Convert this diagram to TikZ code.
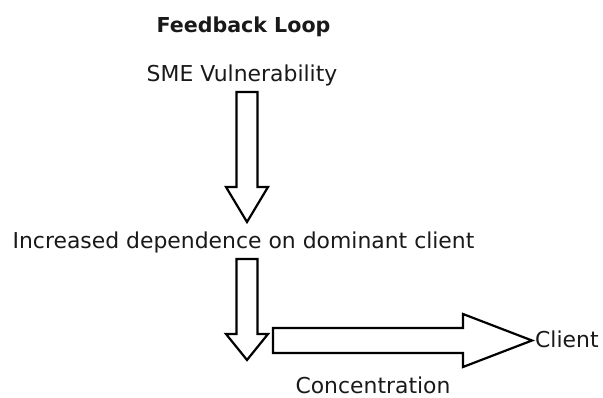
\documentclass[tikz,border=0pt]{standalone}
\usepackage{fontspec}
\setmainfont{DejaVu Sans}
\begin{document}
\begin{tikzpicture}[x=1pt,y=-1pt,
  lbl/.style={inner sep=0pt, font=\fontsize{21.9}{26}\selectfont, text=black!90},
  blockarrow/.style={draw=black, line width=2.2pt, line join=miter, fill=white}]
\useasboundingbox (0,0) rectangle (603,398);
\node[lbl, font=\fontsize{20.6}{24}\selectfont\bfseries, anchor=base] (title) at (243.5,33) {Feedback Loop};
\node[lbl, anchor=base] (sme) at (242,82) {SME Vulnerability};
\node[lbl, anchor=base] (dep) at (243.5,249) {Increased dependence on dominant client};
\node[lbl, anchor=base west] (client) at (535,348) {Client};
\node[lbl, anchor=base, text depth=0pt] (conc) at (373,393) {Concentration};
% block arrows
\draw[blockarrow] (236.5,92) -- (257.5,92) -- (257.5,187) -- (268,187) -- (247,222) -- (226,187) -- (236.5,187) -- cycle;
\draw[blockarrow] (236.5,259) -- (257.5,259) -- (257.5,334) -- (268,334) -- (247,360) -- (226,334) -- (236.5,334) -- cycle;
\draw[blockarrow] (273,328) -- (463,328) -- (463,314) -- (532,340.5) -- (463,367) -- (463,353) -- (273,353) -- cycle;
\end{tikzpicture}
\end{document}
